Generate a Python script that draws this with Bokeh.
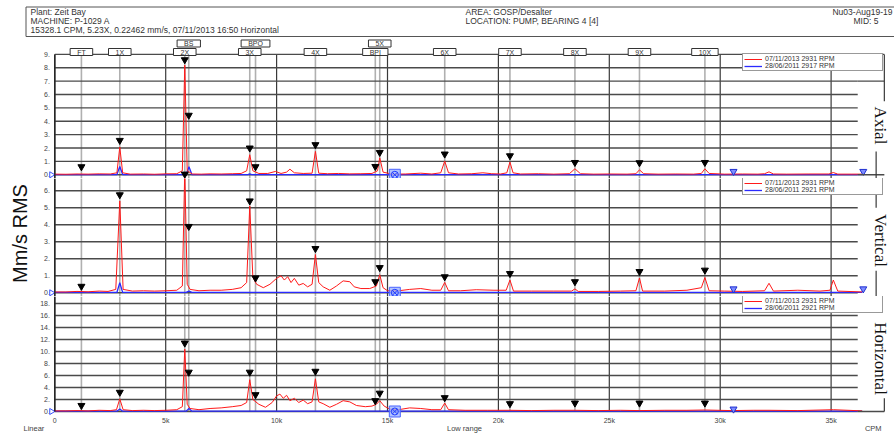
import math
from bokeh.plotting import figure
from bokeh.layouts import column
from bokeh.models import Label, Legend, LegendItem, Range1d
from bokeh.embed import file_html
from bokeh.resources import INLINE

# ---------------- data ----------------
HEADER_LEFT = ["Plant: Zeit Bay", "MACHINE: P-1029 A",
               "15328.1 CPM, 5.23X, 0.22462 mm/s, 07/11/2013 16:50  Horizontal"]
HEADER_MID = ["AREA: GOSP/Desalter", "LOCATION: PUMP, BEARING 4 [4]"]
HEADER_RIGHT = ["Nu03-Aug19-19", "MID: 5"]

X_TICKS = [0, 5, 10, 15, 20, 25, 30, 35]            # kCPM
X_TICK_LABELS = ["0", "5k", "10k", "15k", "20k", "25k", "30k", "35k"]
X_TITLE = "Low range"
X_UNIT = "CPM"
X_SCALE = "Linear"
Y_TITLE = "Mm/s RMS"

FAULT_NAMES = ["FT", "1X", "BS", "2X", "BPO", "3X", "4X", "BPI", "5X", "6X", "7X", "8X", "9X", "10X"]
FAULT_FREQS = [1.2, 2.93, 6.04, 5.86, 9.05, 8.79, 11.75, 14.45, 14.65, 17.58, 20.52, 23.45, 26.36, 29.31]
FAULT_ROW = [1, 1, 2, 1, 2, 1, 1, 1, 2, 1, 1, 1, 1, 1]

CURSOR_CPM = 15.33

PANEL_NAMES = ["Axial", "Vertical", "Horizontal"]
AX_TICKS = [0, 1, 2, 3, 4, 5, 6, 7, 8, 9]
VE_TICKS = [0, 1, 2, 3, 4, 5, 6]
HO_TICKS = [0, 2, 4, 6, 8, 10, 12, 14, 16, 18]

AX_LEGEND = ["07/11/2013 2931 RPM", "28/06/2011 2917 RPM"]
VE_LEGEND = ["07/11/2013 2931 RPM", "28/06/2011 2921 RPM"]
HO_LEGEND = ["07/11/2013 2931 RPM", "28/06/2011 2921 RPM"]

AX_RED = [
    (0.0, 0.05), (0.5, 0.04), (1.0, 0.06), (1.5, 0.05), (2.0, 0.07), (2.5, 0.06), (2.8, 0.15), (2.93, 2.07),
    (3.06, 0.15), (3.4, 0.05), (4.0, 0.06), (4.5, 0.04), (5.0, 0.07), (5.5, 0.08), (5.75, 0.3), (5.86, 8.2),
    (5.97, 0.3), (6.2, 0.06), (6.6, 0.05), (7.0, 0.07), (7.5, 0.06), (8.0, 0.08), (8.4, 0.1), (8.65, 0.3),
    (8.79, 1.5), (8.93, 0.3), (9.2, 0.1), (9.6, 0.1), (9.95, 0.25), (10.2, 0.1), (10.45, 0.2), (10.6, 0.42),
    (10.8, 0.15), (11.2, 0.1), (11.6, 0.12), (11.75, 1.75), (11.9, 0.12), (12.3, 0.08), (12.8, 0.1), (13.3, 0.07),
    (13.8, 0.08), (14.3, 0.1), (14.55, 0.3), (14.65, 1.27), (14.8, 0.2), (15.2, 0.05), (15.8, 0.06), (16.5, 0.12),
    (17.0, 0.06), (17.4, 0.15), (17.58, 1.02), (17.75, 0.15), (18.2, 0.06), (18.8, 0.08), (19.3, 0.15), (19.7, 0.08),
    (20.1, 0.06), (20.38, 0.15), (20.52, 0.95), (20.66, 0.15), (21.0, 0.06), (21.8, 0.08), (22.5, 0.05), (23.2, 0.08),
    (23.45, 0.45), (23.7, 0.08), (24.3, 0.05), (25.0, 0.06), (25.8, 0.05), (26.2, 0.08), (26.36, 0.37), (26.55, 0.08),
    (27.2, 0.05), (28.0, 0.06), (28.8, 0.05), (29.15, 0.1), (29.31, 0.45), (29.5, 0.1), (30.2, 0.05), (31.0, 0.06),
    (31.7, 0.05), (32.0, 0.08), (32.2, 0.22), (32.4, 0.06), (33.0, 0.05), (34.0, 0.06), (34.9, 0.06), (35.1, 0.17),
    (35.3, 0.05), (35.9, 0.05), (36.4, 0.05)]
AX_BLUE = [(0.0, 0.02), (2.8, 0.02), (2.93, 0.62), (3.06, 0.02), (5.92, 0.02), (6.05, 0.6), (6.18, 0.02),
           (8.7, 0.02), (8.79, 0.06), (8.88, 0.02), (36.4, 0.02)]
AX_MARKS = [(1.2, 0.6), (2.93, 2.57), (5.86, 8.6), (6.04, 4.45), (5.86, 0.05), (8.79, 2.0), (9.05, 0.6),
            (11.75, 2.25), (14.45, 0.62), (14.65, 1.67), (17.58, 1.55), (20.52, 1.42), (23.45, 0.92),
            (26.36, 0.9), (29.31, 0.92)]
AX_BLUE_MARKS = [(30.6, 0.25), (36.45, 0.25)]

VE_RED = [
    (0.0, 0.05), (0.5, 0.05), (1.0, 0.08), (1.5, 0.06), (2.0, 0.1), (2.4, 0.08), (2.75, 0.2), (2.93, 5.4),
    (3.08, 0.2), (3.5, 0.1), (4.0, 0.12), (4.5, 0.1), (5.0, 0.12), (5.5, 0.15), (5.75, 0.4), (5.86, 7.2),
    (5.97, 0.5), (6.1, 0.2), (6.5, 0.12), (7.0, 0.15), (7.5, 0.15), (8.0, 0.2), (8.4, 0.3), (8.65, 0.6),
    (8.79, 5.1), (8.93, 0.9), (9.1, 0.5), (9.4, 0.3), (9.7, 0.5), (10.0, 0.85), (10.2, 1.0), (10.35, 0.75),
    (10.5, 0.95), (10.65, 0.6), (10.8, 0.85), (11.0, 0.45), (11.2, 0.55), (11.4, 0.35), (11.6, 0.5), (11.75, 2.25),
    (11.9, 0.6), (12.1, 0.35), (12.4, 0.15), (12.7, 0.4), (13.0, 0.7), (13.3, 0.65), (13.5, 0.35), (13.8, 0.25),
    (14.2, 0.25), (14.5, 0.4), (14.65, 1.06), (14.8, 0.3), (15.0, 0.12), (15.5, 0.12), (16.0, 0.2), (16.5, 0.25),
    (17.0, 0.15), (17.4, 0.15), (17.58, 0.61), (17.75, 0.12), (18.3, 0.12), (19.0, 0.18), (19.8, 0.15), (20.35, 0.15),
    (20.52, 0.75), (20.68, 0.1), (21.5, 0.1), (22.5, 0.1), (23.3, 0.1), (23.45, 0.23), (23.6, 0.08), (24.5, 0.08),
    (25.5, 0.1), (26.2, 0.12), (26.36, 0.87), (26.5, 0.1), (27.5, 0.1), (28.5, 0.15), (29.15, 0.3), (29.31, 0.9),
    (29.5, 0.12), (30.2, 0.1), (31.0, 0.08), (32.0, 0.12), (32.2, 0.56), (32.4, 0.1), (33.5, 0.15), (34.5, 0.1),
    (34.95, 0.15), (35.1, 0.75), (35.3, 0.1), (36.4, 0.05)]
VE_BLUE = [(0.0, 0.02), (2.8, 0.02), (2.93, 0.6), (3.06, 0.02), (5.92, 0.02), (6.05, 0.1), (6.18, 0.02), (36.4, 0.02)]
VE_MARKS = [(1.2, 0.38), (2.93, 5.76), (6.04, 3.9), (8.79, 5.4), (9.05, 0.87), (11.75, 2.6), (14.45, 0.65),
            (14.65, 1.48), (17.58, 0.94), (20.52, 1.13), (23.45, 0.65), (26.36, 1.25), (29.31, 1.33)]
VE_BLUE_MARKS = [(30.6, 0.23), (36.45, 0.23)]

HO_RED = [
    (0.0, 0.1), (0.5, 0.1), (1.0, 0.15), (1.5, 0.1), (2.0, 0.2), (2.5, 0.15), (2.78, 0.3), (2.93, 2.1),
    (3.08, 0.3), (3.5, 0.15), (4.0, 0.2), (4.5, 0.15), (5.0, 0.2), (5.5, 0.3), (5.75, 0.8), (5.86, 10.4),
    (5.97, 1.2), (6.1, 0.5), (6.5, 0.3), (7.0, 0.5), (7.5, 0.6), (8.0, 0.8), (8.4, 1.0), (8.65, 1.5),
    (8.79, 5.3), (8.93, 2.0), (9.2, 1.2), (9.5, 0.7), (9.8, 1.5), (10.0, 2.6), (10.15, 2.9), (10.3, 2.2),
    (10.45, 2.7), (10.6, 1.8), (10.8, 2.2), (11.0, 1.5), (11.2, 1.9), (11.4, 1.3), (11.6, 1.6), (11.75, 5.45),
    (11.9, 1.6), (12.1, 1.3), (12.4, 0.7), (12.7, 1.2), (13.0, 1.8), (13.3, 1.6), (13.6, 1.0), (14.0, 0.8),
    (14.3, 0.9), (14.5, 1.2), (14.65, 1.8), (14.85, 0.9), (15.1, 0.4), (15.5, 0.3), (16.0, 0.6), (16.5, 0.5),
    (17.0, 0.3), (17.4, 0.3), (17.58, 1.4), (17.75, 0.3), (18.5, 0.2), (19.5, 0.2), (20.52, 0.2), (21.5, 0.15),
    (22.5, 0.2), (23.45, 0.2), (24.5, 0.15), (25.5, 0.2), (26.36, 0.15), (27.5, 0.2), (28.5, 0.2), (29.31, 0.25),
    (30.5, 0.15), (31.5, 0.2), (32.2, 0.2), (33.5, 0.15), (35.1, 0.3), (36.4, 0.1)]
HO_BLUE = [(0.0, 0.05), (2.8, 0.05), (2.93, 0.4), (3.06, 0.05), (5.92, 0.05), (6.05, 0.5), (6.18, 0.05), (36.4, 0.05)]
HO_MARKS = [(1.2, 1.0), (2.93, 3.2), (5.86, 11.4), (6.04, 6.55), (8.79, 6.55), (9.05, 2.8), (11.75, 6.7),
            (14.45, 1.8), (14.65, 3.05), (17.58, 2.3), (20.52, 1.3), (23.45, 1.4), (26.36, 1.4), (29.31, 1.4)]
HO_BLUE_MARKS = [(30.6, 0.4)]

# ---------------- style / layout ----------------
W = 894
FONT = "Liberation Sans"
X_RANGE = Range1d(-2.448, 37.858)   # 0 CPM at 54px, 5k per ~111px
GRID_END = 36.2
FRAME_END = 37.4                    # right frame edge of the printout
BRACKET_X = 37.03                   # bracket lines beside the panel names
LABEL_X = 37.22                     # right-hand panel names
YLAB_X = -0.22                      # y tick labels
RED = "#ff1a1a"
BLUE = "#2a2aff"
DARK = "#3a3a3a"


def split(pairs):
    return [p[0] for p in pairs], [p[1] for p in pairs]


def make_panel(height, yr, ticks, name, name_y, red, blue, marks, bmarks,
               legend_labels, legend_y, top_clip, bottom_at_zero):
    p = figure(width=W, height=height, x_range=X_RANGE, y_range=Range1d(*yr),
               output_backend="svg", toolbar_location=None,
               x_axis_location=None, y_axis_location=None, min_border=0,
               outline_line_color=None, background_fill_color="white")
    p.grid.visible = False
    y_lo = 0 if bottom_at_zero else yr[0]
    y_hi = ticks[-1] if top_clip else yr[1]

    # harmonic / fault frequency lines
    n = len(FAULT_FREQS)
    p.segment(x0=FAULT_FREQS, x1=FAULT_FREQS, y0=[y_lo] * n, y1=[y_hi] * n,
              line_color="#b0b0b0", line_width=1.6)
    # 5k grid lines
    m = len(X_TICKS)
    p.segment(x0=X_TICKS, x1=X_TICKS, y0=[y_lo] * m, y1=[y_hi] * m,
              line_color=DARK, line_width=1.2)
    # amplitude grid lines
    k = len(ticks)
    p.segment(x0=[0] * k, x1=[GRID_END] * k, y0=ticks, y1=ticks,
              line_color="#4a4a4a", line_width=1.4)
    # y tick labels
    p.text(x=[YLAB_X] * k, y=ticks, text=[f"{t}." for t in ticks], text_align="right",
           text_baseline="middle", text_font_size="7px", text_color="#444",
           text_font={"value": FONT})
    # zero markers on the axis
    p.scatter([-0.15], [0], marker="triangle", angle=-math.pi / 2, size=6,
              fill_color=None, line_color="#3a50ff")

    bx, by = split(blue)
    rx, ry = split(red)
    rb = p.line(bx, by, line_color=BLUE, line_width=1.3)
    rr = p.line(rx, ry, line_color=RED, line_width=1)
    mx, my = split(marks)
    p.scatter(mx, my, marker="inverted_triangle", size=7, color="black")
    qx, qy = split(bmarks)
    p.scatter(qx, qy, marker="inverted_triangle", size=7, fill_color="#7d8cff",
              line_color="#2030d0")
    p.scatter([CURSOR_CPM], [0], marker="square", size=11, fill_color="#9fb4ff",
              fill_alpha=0.8, line_color="#4a64ff")
    p.scatter([CURSOR_CPM], [0], marker="circle_x", size=7, fill_color=None,
              line_color="#1f3cff")
    # left axis line
    p.segment(x0=[0], x1=[0], y0=[y_lo], y1=[y_hi], line_color="#222", line_width=1.4)

    leg = Legend(items=[LegendItem(label=legend_labels[0], renderers=[rr]),
                        LegendItem(label=legend_labels[1], renderers=[rb])],
                 location=(742, legend_y), orientation="vertical",
                 label_text_font=FONT, label_text_font_size="7px", label_text_color="#333",
                 label_height=6, label_width=116, label_standoff=3,
                 glyph_height=6, glyph_width=18, spacing=0, padding=1, margin=0,
                 border_line_color="#333", border_line_width=1,
                 background_fill_color="white", background_fill_alpha=1)
    p.add_layout(leg)

    p.add_layout(Label(x=LABEL_X, y=name_y, x_units="data", y_units="screen",
                       text=name, angle=-math.pi / 2, text_align="center", text_baseline="middle",
                       text_font="Liberation Serif", text_font_size="17px", text_color="#111"))
    return p


# ---------------- header ----------------
hdr = figure(width=W, height=38, x_range=Range1d(0, W), y_range=Range1d(38, 0), output_backend="svg",
             toolbar_location=None, x_axis_location=None, y_axis_location=None,
             min_border=0, outline_line_color=None, background_fill_color="white")
hdr.grid.visible = False
hdr.quad(left=[25.5], right=[W + 5], top=[6.5], bottom=[36], fill_color=None,
         line_color="#555", line_width=1)
for i, t in enumerate(HEADER_LEFT):
    hdr.add_layout(Label(x=30, y=27 - 9 * i, x_units="screen", y_units="screen", text=t,
                         text_baseline="middle", text_font=FONT, text_font_size="8.5px", text_color="#333"))
for i, t in enumerate(HEADER_MID):
    hdr.add_layout(Label(x=465, y=27 - 9 * i, x_units="screen", y_units="screen", text=t,
                         text_baseline="middle", text_font=FONT, text_font_size="8.5px", text_color="#333"))
for i, (t, xr) in enumerate(zip(HEADER_RIGHT, [892, 878])):
    hdr.add_layout(Label(x=xr, y=27 - 9 * i, x_units="screen", y_units="screen", text=t,
                         text_align="right", text_baseline="middle", text_font=FONT,
                         text_font_size="8.5px", text_color="#333"))

# ---------------- panels ----------------
p1 = make_panel(140, (-0.277, 10.19), AX_TICKS, PANEL_NAMES[0], 53,
                AX_RED, AX_BLUE, AX_MARKS, AX_BLUE_MARKS, AX_LEGEND, 107, True, False)
p2 = make_panel(118, (-0.218, 6.72), VE_TICKS, PANEL_NAMES[1], 56,
                VE_RED, VE_BLUE, VE_MARKS, VE_BLUE_MARKS, VE_LEGEND, 101, False, False)
p3 = make_panel(140, (-4.17, 19.17), HO_TICKS, PANEL_NAMES[2], 78,
                HO_RED, HO_BLUE, HO_MARKS, HO_BLUE_MARKS, HO_LEGEND, 123, False, True)

# printout frame pieces on the right-hand side
p1.segment(x0=[GRID_END, GRID_END, GRID_END], x1=[FRAME_END] * 3, y0=[9, 7, 0], y1=[9, 7, 0],
           line_color="#4a4a4a", line_width=1.4)
p1.segment(x0=[FRAME_END], x1=[FRAME_END], y0=[9], y1=[5.5], line_color=DARK, line_width=1.2)
p1.segment(x0=[BRACKET_X], x1=[BRACKET_X], y0=[1.75], y1=[-0.277], line_color=DARK, line_width=1.2)
p2.segment(x0=[BRACKET_X], x1=[BRACKET_X], y0=[6.72], y1=[5.0], line_color=DARK, line_width=1.2)
p2.segment(x0=[BRACKET_X], x1=[BRACKET_X], y0=[1.3], y1=[-0.218], line_color=DARK, line_width=1.2)
p3.segment(x0=[BRACKET_X], x1=[BRACKET_X], y0=[19.17], y1=[17.2], line_color=DARK, line_width=1.2)
p3.segment(x0=[GRID_END], x1=[FRAME_END], y0=[0], y1=[0], line_color="#4a4a4a", line_width=1.4)
p3.segment(x0=[FRAME_END], x1=[FRAME_END], y0=[0], y1=[2.2], line_color=DARK, line_width=1.2)

# fault frequency tags above the top panel
for name, f, row in zip(FAULT_NAMES, FAULT_FREQS, FAULT_ROW):
    p1.add_layout(Label(x=f, y=(126.5 if row == 1 else 135), x_units="data", y_units="screen",
                        text=name, text_align="center", text_baseline="middle", text_font=FONT,
                        text_font_size="7px", text_color="#333",
                        border_line_color="#333", border_line_width=1,
                        background_fill_color="white", padding=(7, 0)))

# y axis title
p2.add_layout(Label(x=-1.55, y=63, x_units="data", y_units="screen", text=Y_TITLE,
                    angle=math.pi / 2, text_align="center", text_baseline="middle",
                    text_font=FONT, text_font_size="20px", text_color="#111"))

# x tick labels and bottom texts
p3.text(x=X_TICKS, y=[-1.5] * len(X_TICKS), text=X_TICK_LABELS, text_align="center",
        text_baseline="middle", text_font_size="7px", text_color="#444",
        text_font={"value": FONT})
p3.add_layout(Label(x=-1.41, y=8, x_units="data", y_units="screen", text=X_SCALE,
                    text_baseline="middle", text_font=FONT, text_font_size="7.5px", text_color="#444"))
p3.add_layout(Label(x=18.47, y=8, x_units="data", y_units="screen", text=X_TITLE,
                    text_align="center", text_baseline="middle", text_font=FONT,
                    text_font_size="7.5px", text_color="#444"))
p3.add_layout(Label(x=36.9, y=8, x_units="data", y_units="screen", text=X_UNIT,
                    text_align="center", text_baseline="middle", text_font=FONT,
                    text_font_size="7.5px", text_color="#444"))

layout = column(hdr, p1, p2, p3, spacing=0)
open("out.html", "w").write(file_html(layout, INLINE))
